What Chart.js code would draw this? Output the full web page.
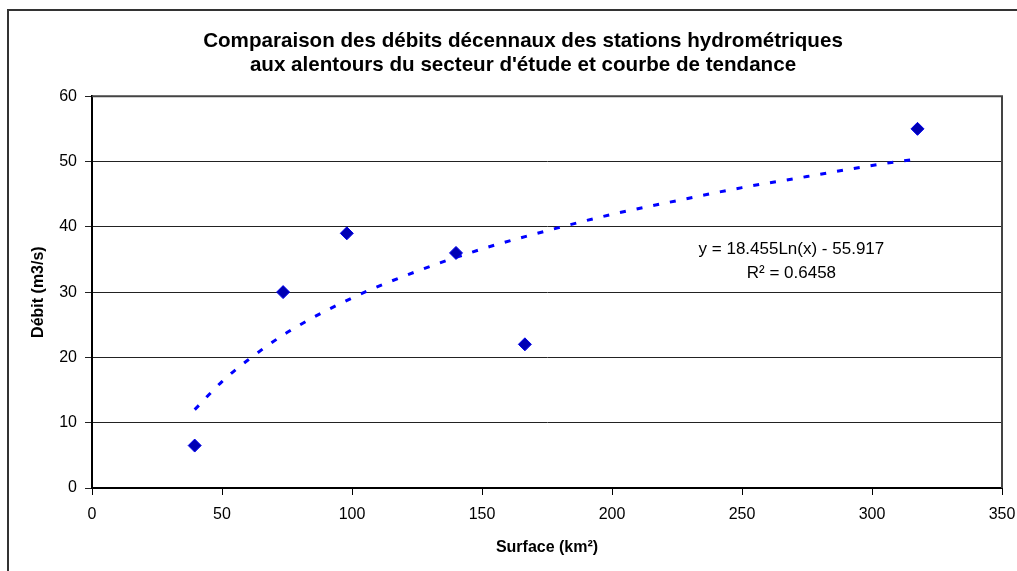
<!DOCTYPE html>
<html>
<head>
<meta charset="utf-8">
<script src="https://cdn.jsdelivr.net/npm/chart.js@4/dist/chart.umd.min.js"></script>
<style>
  body { margin: 0; background: #fff; }
  #wrap { width: 1017px; height: 571px; }
</style>
</head>
<body>
<div id="wrap"><canvas id="debitChart" width="1017" height="571"></canvas></div>
<script>
// Stations: surface du bassin (km²) et débit décennal (m3/s)
const surfaces = [39.5, 73.5, 98, 140, 166.5, 317.5];
const debits = [6.5, 30, 39, 36, 22, 55];

// Courbe de tendance
const trendX = [39.5, 50, 60, 75, 100, 125, 150, 175, 200, 225, 250, 275, 300, 317.5];
const trendY = [12.0, 16.3, 19.6, 23.8, 29.1, 33.2, 36.6, 39.4, 41.9, 44.0, 46.0, 47.7, 49.4, 50.4];

const titleLines = ['Comparaison des débits décennaux des stations hydrométriques',
                    "aux alentours du secteur d'étude et courbe de tendance"];
const equationLines = ['y = 18.455Ln(x) - 55.917', 'R² = 0.6458'];
const equationPos = [{ x: 269, y: 36.6 }, { x: 269, y: 32.9 }];

const FONT = "'Liberation Sans', Arial, sans-serif";

// Frame, plot border and equation text
const decorations = {
    id: 'decorations',
    beforeDraw(chart) {
        const c = chart.ctx;
        c.save();
        c.fillStyle = '#fff';
        c.fillRect(0, 0, chart.width, chart.height);
        c.strokeStyle = '#333';
        c.lineWidth = 2;
        c.beginPath();
        c.moveTo(8, chart.height + 2);
        c.lineTo(8, 10);
        c.lineTo(chart.width + 2, 10);
        c.stroke();
        c.restore();
    },
    afterDatasetsDraw(chart) {
        const c = chart.ctx;
        const a = chart.chartArea;
        c.save();
        c.strokeStyle = '#444';
        c.lineWidth = 2;
        c.beginPath();
        c.moveTo(a.left, a.top);
        c.lineTo(a.right, a.top);
        c.lineTo(a.right, a.bottom);
        c.stroke();

        c.fillStyle = '#000';
        c.font = '17px ' + FONT;
        c.textAlign = 'center';
        c.textBaseline = 'middle';
        equationLines.forEach((t, i) => {
            const px = chart.scales.x.getPixelForValue(equationPos[i].x);
            const py = chart.scales.y.getPixelForValue(equationPos[i].y);
            c.fillText(t, px, py);
        });
        c.restore();
    }
};

const ctx = document.getElementById('debitChart').getContext('2d');
new Chart(ctx, {
    type: 'scatter',
    data: {
        datasets: [
            {
                label: 'Stations',
                data: surfaces.map((s, i) => ({ x: s, y: debits[i] })),
                pointStyle: 'rectRot',
                pointRadius: 6.5,
                backgroundColor: '#0000b4',
                borderColor: '#0000ee',
                borderWidth: 1,
                order: 0
            },
            {
                label: 'Tendance',
                type: 'line',
                data: trendX.map((s, i) => ({ x: s, y: trendY[i] })),
                borderColor: '#0000ff',
                borderWidth: 3,
                borderDash: [6, 11],
                pointRadius: 0,
                cubicInterpolationMode: 'monotone',
                fill: false,
                order: 1
            }
        ]
    },
    options: {
        responsive: false,
        animation: false,
        layout: { padding: { left: 44, right: 15, top: 0, bottom: 0 } },
        plugins: {
            legend: { display: false },
            tooltip: { enabled: false },
            title: {
                display: true,
                text: titleLines,
                color: '#000',
                font: { family: FONT, size: 20.6, weight: 'bold', lineHeight: 1.17 },
                padding: { top: 29, bottom: 19 }
            }
        },
        scales: {
            x: {
                type: 'linear',
                min: 0,
                max: 350,
                afterFit: s => { s.height = 83; s.paddingRight = 0; s.paddingLeft = 0; },
                ticks: { stepSize: 50, color: '#000', padding: 10, font: { family: FONT, size: 16 } },
                grid: { drawOnChartArea: false, tickLength: 7, color: '#000' },
                border: { color: '#000', width: 2 },
                title: {
                    display: true,
                    text: 'Surface (km²)',
                    color: '#000',
                    font: { family: FONT, size: 16, weight: 'bold' },
                    padding: { top: 0, bottom: 14 }
                }
            },
            y: {
                min: 0,
                max: 60,
                afterFit: s => { s.width = 48; },
                ticks: { stepSize: 10, color: '#000', padding: 8, font: { family: FONT, size: 16 } },
                grid: { color: '#222', lineWidth: 1, tickLength: 7 },
                border: { color: '#000', width: 2 },
                title: {
                    display: true,
                    text: 'Débit (m3/s)',
                    color: '#000',
                    font: { family: FONT, size: 16, weight: 'bold' },
                    padding: { top: -15, bottom: 0 }
                }
            }
        }
    },
    plugins: [decorations]
});
</script>
</body>
</html>
